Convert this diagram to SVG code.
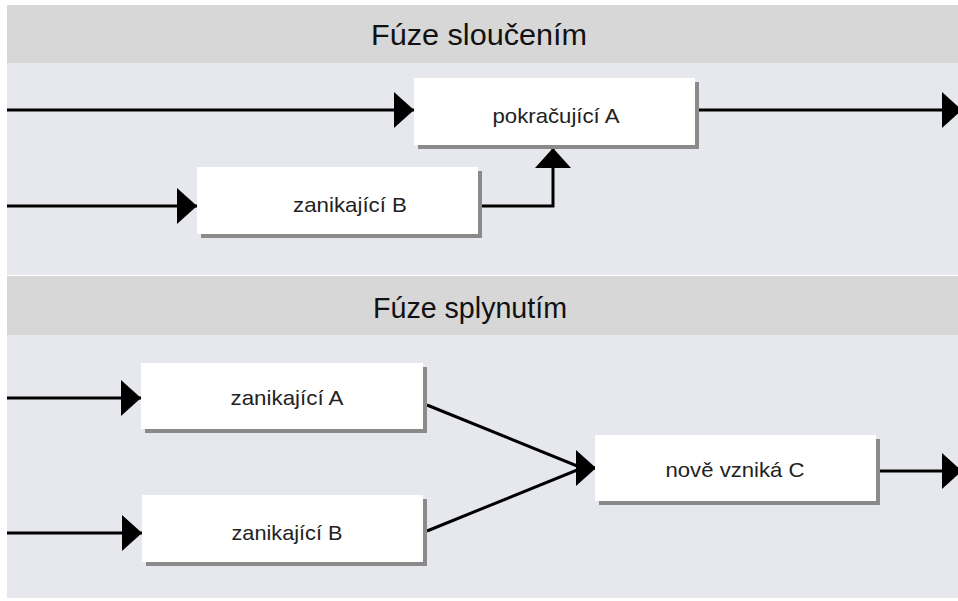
<svg xmlns="http://www.w3.org/2000/svg" width="958" height="601" viewBox="0 0 958 601">
  <style>
    .band { fill: #d7d7d7; }
    .panel { fill: #e6e8ed; }
    .title { font-family: "Liberation Sans", Arial, sans-serif; font-size: 29px; fill: #111; text-anchor: middle; }
    .box { fill: #ffffff; }
    .shadow { fill: #8a8a8a; }
    .label { font-family: "Liberation Sans", Arial, sans-serif; font-size: 21px; fill: #222; text-anchor: middle; }
    .wire { fill: none; stroke: #000; stroke-width: 3; }
  </style>
  <defs>
    <marker id="head" markerUnits="userSpaceOnUse" markerWidth="22" markerHeight="38" refX="20" refY="18" orient="auto" viewBox="0 0 22 38">
      <path d="M0,0 L20,18 L0,36 Z" fill="#000"/>
    </marker>
  </defs>

  <rect width="958" height="601" fill="#ffffff"/>

  <!-- section: merger by acquisition -->
  <rect class="band" x="7" y="5" width="951" height="58"/>
  <rect class="panel" x="7" y="63" width="951" height="212"/>
  <text class="title" x="479" y="45" textLength="216" lengthAdjust="spacingAndGlyphs">Fúze sloučením</text>

  <!-- section: merger by consolidation -->
  <rect class="band" x="7" y="276" width="951" height="59"/>
  <rect class="panel" x="7" y="335" width="951" height="263"/>
  <text class="title" x="470" y="318" textLength="194" lengthAdjust="spacingAndGlyphs">Fúze splynutím</text>

  <!-- connectors -->
  <g id="connectors">
    <path class="wire" d="M7,110 L414,110" marker-end="url(#head)"/>
    <path class="wire" d="M699,110 L962,110" marker-end="url(#head)"/>
    <path class="wire" d="M7,206 L197,206" marker-end="url(#head)"/>
    <path class="wire" d="M482,206 L553,206 L553,148" marker-end="url(#head)"/>
    <path class="wire" d="M7,398 L141,398" marker-end="url(#head)"/>
    <path class="wire" d="M7,533 L142,533" marker-end="url(#head)"/>
    <path class="wire" d="M427,405 L582,468 L596,468" marker-end="url(#head)"/>
    <path class="wire" d="M427,531 L582,468 L596,468"/>
    <path class="wire" d="M880,471 L962,471" marker-end="url(#head)"/>
  </g>

  <g id="pokracujici-a">
    <rect class="shadow" x="418" y="82" width="281" height="67"/>
    <rect class="box" x="414" y="78" width="281" height="67"/>
    <text class="label" x="556" y="123" textLength="127" lengthAdjust="spacingAndGlyphs">pokračující A</text>
  </g>

  <g id="zanikajici-b-1">
    <rect class="shadow" x="201" y="171" width="281" height="67"/>
    <rect class="box" x="197" y="167" width="281" height="67"/>
    <text class="label" x="350" y="212" textLength="114" lengthAdjust="spacingAndGlyphs">zanikající B</text>
  </g>

  <g id="zanikajici-a">
    <rect class="shadow" x="145" y="367" width="282" height="66"/>
    <rect class="box" x="141" y="363" width="282" height="66"/>
    <text class="label" x="287" y="405" textLength="113" lengthAdjust="spacingAndGlyphs">zanikající A</text>
  </g>

  <g id="zanikajici-b-2">
    <rect class="shadow" x="146" y="499" width="281" height="67"/>
    <rect class="box" x="142" y="495" width="281" height="67"/>
    <text class="label" x="287" y="540" textLength="111" lengthAdjust="spacingAndGlyphs">zanikající B</text>
  </g>

  <g id="nove-vznika-c">
    <rect class="shadow" x="599" y="439" width="281" height="66"/>
    <rect class="box" x="595" y="435" width="281" height="66"/>
    <text class="label" x="735" y="477" textLength="139" lengthAdjust="spacingAndGlyphs">nově vzniká C</text>
  </g>
</svg>
